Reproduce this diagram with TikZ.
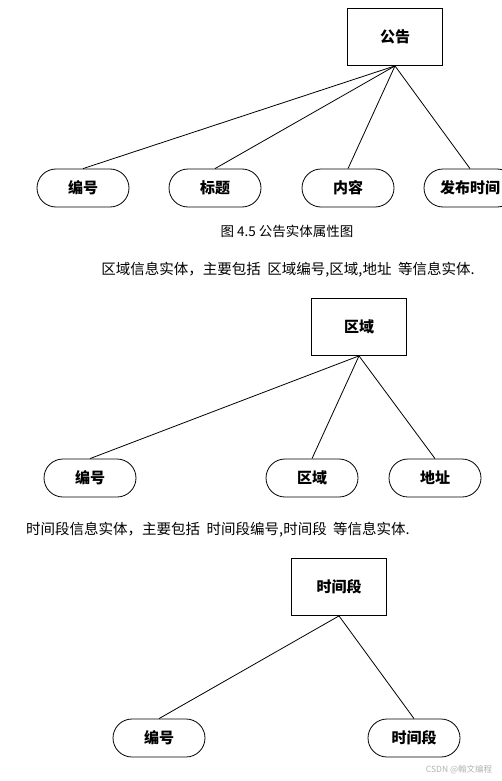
\documentclass[tikz,border=0pt]{standalone}
\usepackage{fontspec}
\setmainfont{Noto Sans CJK SC}
\usetikzlibrary{shapes.misc}
\begin{document}
\begin{tikzpicture}[x=1pt,y=-1pt,
	entity/.style={rectangle,draw,line width=0.8pt,minimum width=95pt,minimum height=57pt,font=\fontsize{15}{18}\selectfont\bfseries},
	attr/.style={rounded rectangle,draw,line width=0.8pt,minimum width=94pt,minimum height=38pt,inner sep=1,font=\fontsize{15}{18}\selectfont\bfseries},
	txt/.style={inner sep=0,font=\fontsize{14.5}{17}\selectfont},
	link/.style={line width=0.8pt}]
\useasboundingbox (0,0) rectangle (501,781);
% 公告
\node[entity] (gg) at (395,37) {公告};
\node[attr] (ggbh) at (83,188) {编号};
\node[attr] (ggbt) at (215,188) {标题};
\node[attr] (ggnr) at (348,188) {内容};
\node[attr] (ggsj) at (470,188) {发布时间};
\foreach \a in {ggbh,ggbt,ggnr,ggsj}
	\draw[link] (gg.south) -- (\a.north);
\node[inner sep=0,font=\fontsize{13.5}{16}\selectfont] (cap) at (287,231) {图 4.5 公告实体属性图};
% 区域
\node[txt] (qyt) at (288,270) {区域信息实体，主要包括\ \ 区域编号,区域,地址\ \ 等信息实体.};
\node[entity] (qy) at (359,327) {区域};
\node[attr] (qybh) at (90,478) {编号};
\node[attr] (qyqy) at (312,478) {区域};
\node[attr] (qydz) at (435,478) {地址};
\foreach \a in {qybh,qyqy,qydz}
	\draw[link] (qy.south) -- (\a.north);
% 时间段
\node[txt] (sjt) at (218,530) {时间段信息实体，主要包括\ \ 时间段编号,时间段\ \ 等信息实体.};
\node[entity] (sjd) at (339,587) {时间段};
\node[attr] (sjbh) at (159,738) {编号};
\node[attr] (sjsj) at (414,738) {时间段};
\foreach \a in {sjbh,sjsj}
	\draw[link] (sjd.south) -- (\a.north);
\node[inner sep=0,text=gray!60,font=\fontsize{8.5}{10}\selectfont] (wm) at (459,770) {CSDN @翰文编程};
\end{tikzpicture}
\end{document}
